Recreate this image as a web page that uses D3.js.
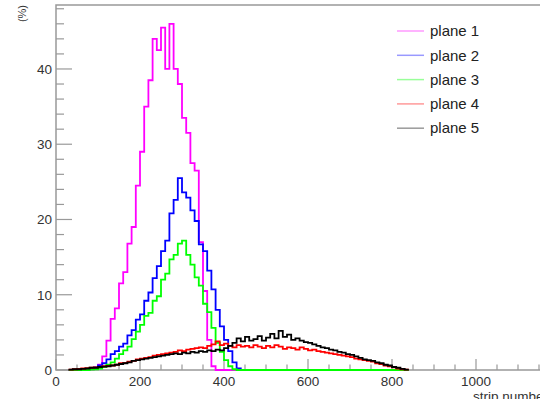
<!DOCTYPE html>
<html>
<head>
<meta charset="utf-8">
<script src="https://cdn.jsdelivr.net/npm/d3@7"></script>
<style>
  body { margin: 0; background: #fff; }
  svg { display: block; font-family: "Liberation Sans", Arial, sans-serif; }
</style>
</head>
<body>
<div id="chart"></div>
<script>
// histogram bins: first bin low edge and width (strip numbers)
const binLow = 30;
const binWidth = 10;

const planeNames = ["plane 1", "plane 2", "plane 3", "plane 4", "plane 5"];
const planeColors = ["#ff00ff", "#0000ff", "#00ff00", "#ff0000", "#000000"];

// occupancy in %, one value per 10-strip bin from 30 to 840
const plane1 = [0, 0, 0, 0, 0, 0.1, 0.3, 0.7, 1.8, 3.9,
  6.8, 8.2, 11.5, 13, 16.8, 19, 24.5, 29, 35, 38.5,
  44, 42.5, 45.5, 40, 46, 40, 38, 33.5, 31.5, 27.5,
  26.5, 17, 10.5, 4, 0.5, 0, 0, 0, 0, 0,
  0, 0, 0, 0, 0, 0, 0, 0, 0, 0,
  0, 0, 0, 0, 0, 0, 0, 0, 0, 0,
  0, 0, 0, 0, 0, 0, 0, 0, 0, 0,
  0, 0, 0, 0, 0, 0, 0, 0, 0, 0, 0];
const plane2 = [0, 0, 0.02, 0.05, 0.1, 0.2, 0.35, 0.6, 0.9, 1.4,
  2.1, 2.5, 3.1, 3.5, 4.6, 5.3, 6.7, 7.4, 9.2, 10.3,
  12.2, 13.8, 15.8, 17.2, 20.8, 22.6, 25.5, 23.6, 22.9, 21.2,
  19.8, 16.7, 15.8, 13.2, 10.7, 8, 5.8, 4, 2.5, 1,
  0.2, 0, 0, 0, 0, 0, 0, 0, 0, 0,
  0, 0, 0, 0, 0, 0, 0, 0, 0, 0,
  0, 0, 0, 0, 0, 0, 0, 0, 0, 0,
  0, 0, 0, 0, 0, 0, 0, 0, 0, 0, 0];
const plane3 = [0, 0, 0, 0, 0, 0.05, 0.1, 0.2, 0.4, 0.7,
  1, 1.5, 2.1, 2.6, 3.1, 4.1, 5.1, 6, 7.2, 7.6,
  9.2, 9.8, 12, 12.8, 14.7, 15.3, 16.8, 17.2, 15.3, 14,
  12.3, 11.2, 8.8, 7.7, 5.6, 3.6, 2.4, 1.3, 0.5, 0.1,
  0, 0, 0, 0, 0, 0, 0, 0, 0, 0,
  0, 0, 0, 0, 0, 0, 0, 0, 0, 0,
  0, 0, 0, 0, 0, 0, 0, 0, 0, 0,
  0, 0, 0, 0, 0, 0, 0, 0, 0, 0, 0];
const plane4 = [0.05, 0.1, 0.15, 0.2, 0.25, 0.3, 0.35, 0.4, 0.5, 0.55,
  0.6, 0.7, 0.9, 0.95, 1.1, 1.2, 1.4, 1.5, 1.6, 1.7,
  1.9, 2.0, 2.1, 2.2, 2.3, 2.4, 2.6, 2.5, 2.7, 2.8,
  2.9, 3.0, 2.9, 3.2, 3.4, 3.8, 3.3, 3.5, 3.2, 3.0,
  3.3, 3.1, 3.2, 3.0, 3.3, 3.1, 2.9, 3.2, 3.0, 3.3,
  3.1, 2.8, 3.0, 2.9, 2.7, 3.0, 2.8, 2.6, 2.7, 2.5,
  2.4, 2.3, 2.2, 2.1, 2.0, 1.9, 1.8, 1.7, 1.5, 1.4,
  1.3, 1.2, 1.1, 0.9, 0.8, 0.6, 0.5, 0.35, 0.2, 0.1, 0.05];
const plane5 = [0.05, 0.1, 0.1, 0.15, 0.2, 0.3, 0.3, 0.4, 0.45, 0.5,
  0.6, 0.7, 0.8, 0.9, 1.0, 1.2, 1.3, 1.4, 1.5, 1.6,
  1.7, 1.8, 1.9, 2.0, 2.1, 2.2, 2.1, 2.3, 2.2, 2.4,
  2.3, 2.5, 2.4, 2.6, 2.5, 2.7, 2.6, 2.9, 3.2, 3.6,
  4.2, 3.8, 4.4, 3.9, 4.1, 4.5, 3.9, 4.3, 4.8, 4.2,
  5.2, 4.4, 4.7, 4.0, 4.2, 3.9, 3.7, 3.6, 3.4, 3.2,
  3.0, 2.9, 2.7, 2.6, 2.4, 2.3, 2.1, 2.0, 1.8, 1.6,
  1.4, 1.3, 1.2, 1.0, 0.9, 0.7, 0.6, 0.4, 0.3, 0.15, 0.05];
const planes = [plane1, plane2, plane3, plane4, plane5];

const xMajor = [0, 200, 400, 600, 800, 1000, 1200];
const xLabels = [0, 200, 400, 600, 800, 1000];
const yMajor = [0, 10, 20, 30, 40];

const width = 540, height = 399;
const frameLeft = 56, frameTop = 5, frameBottom = 370;

const svg = d3.select("#chart").append("svg")
  .attr("width", width)
  .attr("height", height);

const x = d3.scaleLinear().domain([0, 1280]).range([frameLeft, frameLeft + 0.42 * 1280]);
const y = d3.scaleLinear().domain([0, 48.5]).range([frameBottom, frameTop]);

const axisColor = "#999";

// frame
svg.append("path")
  .attr("d", `M${x(1280)},${frameTop} L${frameLeft},${frameTop} L${frameLeft},${frameBottom} L${x(1280)},${frameBottom}`)
  .attr("fill", "none")
  .attr("stroke", axisColor)
  .attr("stroke-width", 1.5);

// x ticks (inside, pointing up)
const xMinor = d3.range(0, 1281, 50).filter((v) => v % 200 !== 0);
svg.append("g").selectAll("line").data(xMinor).join("line")
  .attr("x1", (d) => x(d)).attr("x2", (d) => x(d))
  .attr("y1", frameBottom).attr("y2", frameBottom - 5.5)
  .attr("stroke", axisColor).attr("stroke-width", 1.2);
svg.append("g").selectAll("line").data(xMajor).join("line")
  .attr("x1", (d) => x(d)).attr("x2", (d) => x(d))
  .attr("y1", frameBottom).attr("y2", frameBottom - 11)
  .attr("stroke", axisColor).attr("stroke-width", 1.2);
svg.append("g").selectAll("text").data(xLabels).join("text")
  .attr("x", (d) => x(d))
  .attr("y", frameBottom + 15.5)
  .attr("text-anchor", "middle")
  .attr("font-size", 13.5)
  .attr("fill", "#333")
  .text((d) => d);

// y ticks (inside, pointing right)
const yMinor = d3.range(0, 48.5, 2).filter((v) => v % 10 !== 0);
svg.append("g").selectAll("line").data(yMinor).join("line")
  .attr("x1", frameLeft).attr("x2", frameLeft + 8)
  .attr("y1", (d) => y(d)).attr("y2", (d) => y(d))
  .attr("stroke", axisColor).attr("stroke-width", 1.2);
svg.append("g").selectAll("line").data(yMajor).join("line")
  .attr("x1", frameLeft).attr("x2", frameLeft + 16)
  .attr("y1", (d) => y(d)).attr("y2", (d) => y(d))
  .attr("stroke", axisColor).attr("stroke-width", 1.2);
svg.append("g").selectAll("text").data(yMajor).join("text")
  .attr("x", frameLeft - 4)
  .attr("y", (d) => y(d))
  .attr("dy", "0.36em")
  .attr("text-anchor", "end")
  .attr("font-size", 13.5)
  .attr("fill", "#333")
  .text((d) => d);

// axis titles (the x title runs past the right edge, as in the original)
svg.append("text")
  .attr("x", 548)
  .attr("y", 401)
  .attr("text-anchor", "end")
  .attr("font-size", 13.5)
  .attr("fill", "#333")
  .text("strip number");
svg.append("text")
  .attr("transform", `translate(26,${frameTop}) rotate(-90)`)
  .attr("text-anchor", "end")
  .attr("font-size", 11)
  .attr("fill", "#333")
  .text("(%)");

// histograms as step lines
const step = d3.line()
  .x((d) => x(d[0]))
  .y((d) => y(d[1]))
  .curve(d3.curveStepAfter);

const plot = svg.append("g");
planes.forEach((vals, k) => {
  const pts = vals.map((v, i) => [binLow + i * binWidth, v]);
  pts.push([binLow + vals.length * binWidth, vals[vals.length - 1]]);
  plot.append("path")
    .datum(pts)
    .attr("d", step)
    .attr("fill", "none")
    .attr("stroke", planeColors[k])
    .attr("stroke-width", 1.8)
    .attr("stroke-linejoin", "miter");
});

// legend
const legend = svg.append("g");
planeNames.forEach((name, k) => {
  const ly = 31 + k * 24.3;
  legend.append("line")
    .attr("x1", 397).attr("x2", 424)
    .attr("y1", ly).attr("y2", ly)
    .attr("stroke", planeColors[k])
    .attr("stroke-opacity", 0.4)
    .attr("stroke-width", 1.5);
  legend.append("text")
    .attr("x", 430)
    .attr("y", ly)
    .attr("dy", "0.35em")
    .attr("font-size", 15)
    .attr("fill", "#222")
    .text(name);
});
</script>
</body>
</html>
